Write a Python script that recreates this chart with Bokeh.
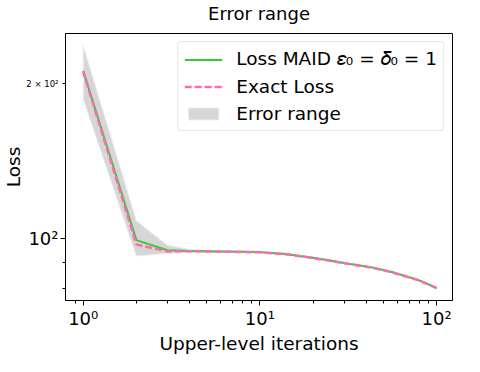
from bokeh.plotting import figure
from bokeh.models import FixedTicker, Legend, LegendItem, Label
from bokeh.embed import file_html
from bokeh.resources import INLINE

# ---- data ----
iterations = [1, 2, 3, 4, 6, 10, 14, 19, 24, 30, 43, 55, 78, 100]
loss_maid = [211.7, 99.5, 95.1, 94.8, 94.6, 94.3, 93.5, 92.2, 91.0, 89.8, 88.1, 86.4, 83.4, 80.4]
exact_loss = [211.0, 97.6, 94.6, 94.7, 94.5, 94.2, 93.4, 92.1, 90.9, 89.7, 88.0, 86.3, 83.3, 80.3]
err_upper = [236.8, 108.4, 97.2, 95.4, 94.9, 94.6, 93.8, 92.5, 91.3, 90.1, 88.4, 86.7, 83.7, 80.7]
err_lower = [186.6, 92.7, 93.8, 94.2, 94.3, 94.0, 93.2, 91.9, 90.7, 89.5, 87.8, 86.1, 83.1, 80.1]

x_major = [1, 10, 100]
x_labels = {1: "10⁰", 10: "10¹", 100: "10²"}
y_major = [100]
y_labels = {100: "10²"}
y_minor = [80, 90, 200]
y_minor_label = "2 × 10²"

FONT = "DejaVu Sans"

p = figure(width=464, height=356, x_axis_type="log", y_axis_type="log",
           x_range=(0.794, 123), y_range=(76, 250),
           output_backend="svg", toolbar_location=None, title="Error range")
p.min_border_left = 0
p.min_border_right = 12
p.min_border_top = 0
p.min_border_bottom = 0
p.background_fill_color = "white"
p.border_fill_color = "white"
p.xgrid.visible = False
p.ygrid.visible = False
p.outline_line_color = "black"
p.outline_line_width = 1
p.outline_line_alpha = 1

p.title.text_font = FONT
p.title.text_font_size = "18px"
p.title.text_font_style = "normal"
p.title.text_color = "black"
p.title.align = "center"
p.title.standoff = 0

x_minor = [0.9] + [m * d for d in (1, 10) for m in range(2, 10)]
p.xaxis.ticker = FixedTicker(ticks=x_major, minor_ticks=x_minor)
p.xaxis.major_label_overrides = x_labels
p.yaxis.ticker = FixedTicker(ticks=y_major, minor_ticks=y_minor)
p.yaxis.major_label_overrides = y_labels
p.xaxis.axis_label = "Upper-level iterations"
p.yaxis.axis_label = "Loss"

for ax in (p.xaxis[0], p.yaxis[0]):
    ax.axis_line_color = "black"
    ax.major_tick_line_color = "black"
    ax.minor_tick_line_color = "black"
    ax.major_tick_out = 5
    ax.major_tick_in = 0
    ax.minor_tick_out = 3
    ax.minor_tick_in = 0
    ax.major_label_text_font = FONT
    ax.major_label_text_font_size = "18px"
    ax.major_label_text_color = "black"
    ax.major_label_standoff = 2
    ax.axis_label_text_font = FONT
    ax.axis_label_text_font_size = "18.5px"
    ax.axis_label_text_font_style = "normal"
    ax.axis_label_text_color = "black"
    ax.axis_label_standoff = 1

band_x = iterations + iterations[::-1]
band_y = err_upper + err_lower[::-1]
band = p.patch(band_x, band_y, fill_color="#d6d6d6", fill_alpha=1,
               line_color="#ececec", line_width=1)
g = p.line(iterations, loss_maid, line_color="#33cc33", line_width=2)
e = p.line(iterations, exact_loss, line_color="#ff69b4", line_width=2.5,
           line_dash="7 3")

# small label of the 2x10^2 minor tick; laid out in a side panel so it is not clipped
p.add_layout(Label(x=0.794, y=200, x_offset=-7, text=y_minor_label,
                   text_align="right", text_baseline="middle",
                   text_font=FONT, text_font_size="8.5px", text_color="black"),
             "above")

legend = Legend(items=[
    LegendItem(label="Loss MAID 𝜀₀ = 𝛿₀ = 1", renderers=[g]),
    LegendItem(label="Exact Loss", renderers=[e]),
    LegendItem(label="Error range", renderers=[band]),
], location="top_right")
legend.label_text_font = FONT
legend.label_text_font_size = "18.5px"
legend.label_text_color = "black"
legend.glyph_width = 38
legend.glyph_height = 15
legend.label_height = 21
legend.label_standoff = 14
legend.spacing = 6
legend.padding = 6
legend.margin = 8
legend.border_line_color = "#cccccc"
legend.border_line_width = 1
legend.background_fill_alpha = 0.8
legend.border_radius = 4
p.add_layout(legend)

open("out.html", "w").write(file_html(p, INLINE))
